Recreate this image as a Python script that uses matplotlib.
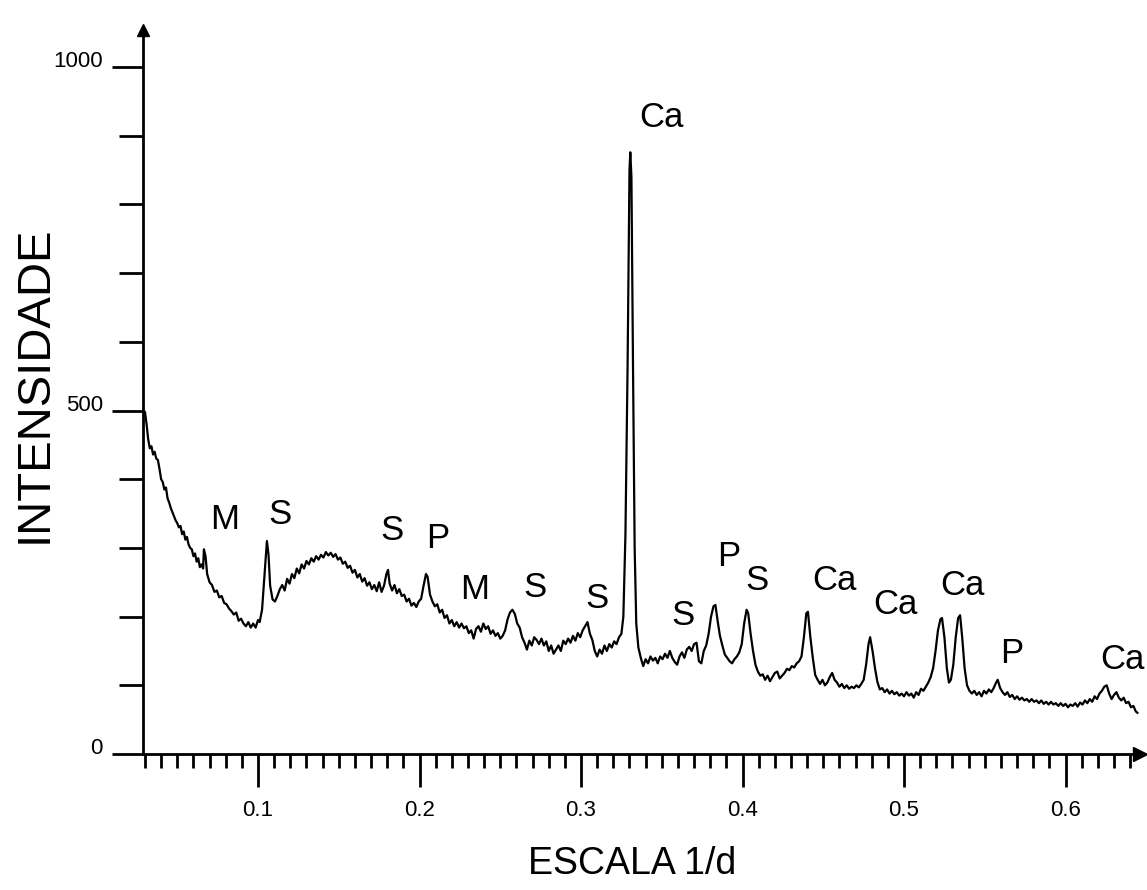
import numpy as np
import matplotlib.pyplot as plt
from matplotlib.ticker import MultipleLocator

plt.rcParams['font.family'] = ['Liberation Sans', 'DejaVu Sans']

# trace: 1/d scale and intensity (counts)
scale_1d = [
    0.0290, 0.0300, 0.0310, 0.0320, 0.0330, 0.0340, 0.0350, 0.0360, 0.0370, 0.0380,
    0.0390, 0.0400, 0.0410, 0.0420, 0.0430, 0.0440, 0.0450, 0.0460, 0.0470, 0.0480,
    0.0490, 0.0500, 0.0510, 0.0520, 0.0530, 0.0540, 0.0550, 0.0560, 0.0570, 0.0580,
    0.0590, 0.0600, 0.0610, 0.0620, 0.0630, 0.0640, 0.0650, 0.0660, 0.0665, 0.0675,
    0.0685, 0.0700, 0.0715, 0.0730, 0.0745, 0.0760, 0.0775, 0.0790, 0.0805, 0.0820,
    0.0835, 0.0850, 0.0865, 0.0880, 0.0895, 0.0910, 0.0925, 0.0940, 0.0955, 0.0970,
    0.0985, 0.1000, 0.1010, 0.1025, 0.1040, 0.1055, 0.1065, 0.1075, 0.1090, 0.1105,
    0.1120, 0.1135, 0.1150, 0.1165, 0.1180, 0.1195, 0.1210, 0.1225, 0.1240, 0.1255,
    0.1270, 0.1285, 0.1300, 0.1315, 0.1330, 0.1345, 0.1360, 0.1375, 0.1390, 0.1405,
    0.1420, 0.1435, 0.1450, 0.1465, 0.1480, 0.1495, 0.1510, 0.1525, 0.1540, 0.1555,
    0.1570, 0.1585, 0.1600, 0.1615, 0.1630, 0.1645, 0.1660, 0.1675, 0.1690, 0.1705,
    0.1720, 0.1735, 0.1750, 0.1765, 0.1780, 0.1795, 0.1805, 0.1815, 0.1830, 0.1845,
    0.1860, 0.1875, 0.1890, 0.1905, 0.1920, 0.1935, 0.1950, 0.1965, 0.1980, 0.1995,
    0.2010, 0.2025, 0.2040, 0.2050, 0.2065, 0.2080, 0.2095, 0.2110, 0.2125, 0.2140,
    0.2155, 0.2170, 0.2185, 0.2200, 0.2215, 0.2230, 0.2245, 0.2260, 0.2275, 0.2290,
    0.2305, 0.2320, 0.2335, 0.2350, 0.2365, 0.2380, 0.2395, 0.2410, 0.2425, 0.2440,
    0.2455, 0.2470, 0.2485, 0.2500, 0.2515, 0.2530, 0.2545, 0.2560, 0.2575, 0.2590,
    0.2605, 0.2620, 0.2635, 0.2650, 0.2665, 0.2680, 0.2695, 0.2710, 0.2725, 0.2740,
    0.2755, 0.2770, 0.2785, 0.2800, 0.2815, 0.2830, 0.2845, 0.2860, 0.2875, 0.2890,
    0.2905, 0.2920, 0.2935, 0.2950, 0.2965, 0.2980, 0.2995, 0.3010, 0.3025, 0.3040,
    0.3055, 0.3070, 0.3085, 0.3100, 0.3115, 0.3130, 0.3145, 0.3160, 0.3175, 0.3190,
    0.3205, 0.3220, 0.3235, 0.3250, 0.3262, 0.3275, 0.3288, 0.3300, 0.3305, 0.3312,
    0.3322, 0.3332, 0.3342, 0.3355, 0.3370, 0.3385, 0.3400, 0.3415, 0.3430, 0.3445,
    0.3460, 0.3475, 0.3490, 0.3505, 0.3520, 0.3535, 0.3550, 0.3565, 0.3580, 0.3595,
    0.3610, 0.3625, 0.3640, 0.3655, 0.3670, 0.3685, 0.3700, 0.3715, 0.3730, 0.3745,
    0.3760, 0.3775, 0.3790, 0.3805, 0.3820, 0.3832, 0.3845, 0.3860, 0.3875, 0.3890,
    0.3905, 0.3920, 0.3935, 0.3950, 0.3965, 0.3980, 0.3995, 0.4010, 0.4025, 0.4035,
    0.4050, 0.4065, 0.4080, 0.4095, 0.4110, 0.4125, 0.4140, 0.4155, 0.4170, 0.4185,
    0.4200, 0.4215, 0.4230, 0.4245, 0.4260, 0.4275, 0.4290, 0.4305, 0.4320, 0.4335,
    0.4350, 0.4365, 0.4380, 0.4395, 0.4405, 0.4420, 0.4435, 0.4450, 0.4465, 0.4480,
    0.4495, 0.4510, 0.4525, 0.4540, 0.4555, 0.4570, 0.4585, 0.4600, 0.4615, 0.4630,
    0.4645, 0.4660, 0.4675, 0.4690, 0.4705, 0.4720, 0.4735, 0.4750, 0.4765, 0.4780,
    0.4790, 0.4805, 0.4820, 0.4835, 0.4850, 0.4865, 0.4880, 0.4895, 0.4910, 0.4925,
    0.4940, 0.4955, 0.4970, 0.4985, 0.5000, 0.5015, 0.5030, 0.5045, 0.5060, 0.5075,
    0.5090, 0.5105, 0.5120, 0.5135, 0.5150, 0.5165, 0.5180, 0.5195, 0.5210, 0.5225,
    0.5235, 0.5250, 0.5265, 0.5278, 0.5290, 0.5305, 0.5320, 0.5335, 0.5347, 0.5360,
    0.5375, 0.5390, 0.5405, 0.5420, 0.5435, 0.5450, 0.5465, 0.5480, 0.5495, 0.5510,
    0.5525, 0.5540, 0.5555, 0.5570, 0.5580, 0.5595, 0.5610, 0.5625, 0.5640, 0.5655,
    0.5670, 0.5685, 0.5700, 0.5715, 0.5730, 0.5745, 0.5760, 0.5775, 0.5790, 0.5805,
    0.5820, 0.5835, 0.5850, 0.5865, 0.5880, 0.5895, 0.5910, 0.5925, 0.5940, 0.5955,
    0.5970, 0.5985, 0.6000, 0.6015, 0.6030, 0.6045, 0.6060, 0.6075, 0.6090, 0.6105,
    0.6120, 0.6135, 0.6150, 0.6165, 0.6180, 0.6195, 0.6210, 0.6225, 0.6240, 0.6255,
    0.6270, 0.6285, 0.6300, 0.6315, 0.6330, 0.6345, 0.6360, 0.6375, 0.6390, 0.6405,
    0.6420, 0.6435, 0.6445,
]
intensity = [
    500, 498, 480, 458, 445, 448, 436, 440, 430, 428,
    415, 400, 396, 385, 388, 372, 366, 358, 352, 346,
    340, 336, 330, 332, 320, 324, 312, 316, 305, 300,
    298, 288, 292, 280, 285, 272, 276, 270, 298, 288,
    262, 250, 246, 236, 238, 228, 230, 220, 218, 212,
    208, 203, 206, 194, 197, 190, 186, 192, 184, 190,
    184, 195, 192, 210, 260, 310, 290, 245, 225, 222,
    230, 240, 246, 238, 255, 248, 262, 256, 270, 263,
    276, 270, 281, 276, 285, 280, 288, 283, 290, 286,
    294, 289, 293, 287, 291, 283, 286, 277, 280, 271,
    274, 264, 268, 257, 262, 251, 256, 245, 250, 240,
    246, 237, 250, 236, 245, 262, 268, 248, 238, 246,
    234, 240, 230, 232, 222, 226, 216, 220, 214, 222,
    226, 245, 262, 258, 232, 222, 215, 218, 206, 210,
    198, 202, 190, 195, 186, 192, 184, 190, 183, 186,
    176, 180, 168, 182, 186, 178, 190, 182, 186, 175,
    180, 172, 176, 168, 172, 180, 196, 206, 210, 204,
    190, 184, 170, 162, 152, 165, 158, 170, 166, 160,
    168, 158, 164, 150, 158, 146, 152, 158, 150, 165,
    160, 168, 162, 172, 165, 176, 170, 180, 186, 192,
    175, 166, 150, 142, 152, 146, 158, 150, 160, 155,
    164, 160, 170, 175, 200, 320, 560, 850, 876, 840,
    560, 300, 190, 155, 140, 128, 138, 132, 142, 136,
    140, 132, 142, 138, 146, 140, 150, 140, 134, 130,
    142, 148, 140, 152, 156, 150, 160, 162, 135, 132,
    150, 158, 175, 200, 215, 217, 195, 172, 158, 145,
    140, 135, 132, 138, 142, 148, 160, 190, 210, 205,
    175, 150, 130, 120, 114, 116, 108, 114, 106, 112,
    118, 120, 110, 114, 118, 124, 122, 128, 126, 132,
    135, 142, 170, 205, 207, 170, 140, 115, 108, 102,
    108, 100, 104, 112, 118, 108, 104, 98, 102, 96,
    100, 95, 98, 96, 100, 97, 102, 108, 130, 160,
    170, 150, 125, 105, 94, 96, 90, 94, 88, 92,
    87, 90, 85, 88, 84, 90, 85, 88, 82, 90,
    86, 95, 92, 98, 104, 112, 125, 150, 180, 196,
    198, 170, 125, 104, 108, 130, 170, 198, 202, 170,
    125, 100, 92, 88, 92, 86, 90, 84, 92, 88,
    94, 90, 96, 104, 108, 96, 90, 86, 90, 83,
    86, 80, 84, 79, 82, 78, 80, 76, 80, 76,
    78, 74, 78, 73, 76, 72, 76, 72, 74, 70,
    74, 70, 73, 68, 72, 70, 74, 69, 75, 72,
    78, 74, 80, 76, 84, 80, 88, 92, 98, 100,
    88, 80, 86, 90, 82, 78, 82, 74, 76, 68,
    70, 62, 60,
]

# phase labels (M, S, P, Ca) and where they sit
peak_names = ["M", "S", "S", "P", "M", "S", "S", "Ca", "S", "P", "S",
              "Ca", "Ca", "Ca", "P", "Ca"]
peak_x = [0.0796, 0.1136, 0.1830, 0.2115, 0.2344, 0.2715, 0.3100, 0.3500,
          0.3630, 0.3916, 0.4090, 0.4570, 0.4944, 0.5359, 0.5669, 0.6350]
peak_y = [341, 349, 326, 314, 239, 242, 227, 927, 202, 287, 252,
          253, 217, 246, 146, 137]

x_ticks = [0.1, 0.2, 0.3, 0.4, 0.5, 0.6]
y_ticks = [0, 500, 1000]

fig = plt.figure(figsize=(11.47, 8.90), dpi=100)
ax = fig.add_axes([0.1247, 0.1528, 0.8692, 0.8135])

ax.plot(scale_1d, intensity, color="black", lw=1.6)

ax.set_xlim(0.0288, 0.6461)
ax.set_ylim(0, 1054)

for s in ["top", "right"]:
    ax.spines[s].set_visible(False)
for s in ["left", "bottom"]:
    ax.spines[s].set_linewidth(2)

# arrow heads on the axes
ax.plot(1, 0, ">k", ms=10, transform=ax.transAxes, clip_on=False)
ax.plot(0, 1, "^k", ms=9, transform=ax.transAxes, clip_on=False)

ax.set_xticks(x_ticks)
ax.set_xticklabels([str(v) for v in x_ticks])
ax.xaxis.set_minor_locator(MultipleLocator(0.01))
ax.set_yticks(y_ticks)
ax.set_yticklabels([str(v) for v in y_ticks])
ax.yaxis.set_minor_locator(MultipleLocator(100))

ax.tick_params(axis="x", which="major", direction="out", length=24, width=2, pad=9, labelsize=16)
ax.tick_params(axis="x", which="minor", direction="out", length=10, width=2)
ax.tick_params(axis="y", which="major", direction="out", length=22, width=2, pad=7, labelsize=16)
ax.tick_params(axis="y", which="minor", direction="out", length=17, width=2)
for lab in ax.get_yticklabels():
    lab.set_verticalalignment("baseline")

for name, px, py in zip(peak_names, peak_x, peak_y):
    ax.text(px, py, name, fontsize=25, ha="center", va="center", clip_on=False)

fig.text(0.0305, 0.5685, "INTENSIDADE", rotation=90, fontsize=34, ha="center", va="center")
fig.text(0.551, 0.018, "ESCALA 1/d", fontsize=27, ha="center", va="baseline")

fig.savefig("out.png", dpi=100)
